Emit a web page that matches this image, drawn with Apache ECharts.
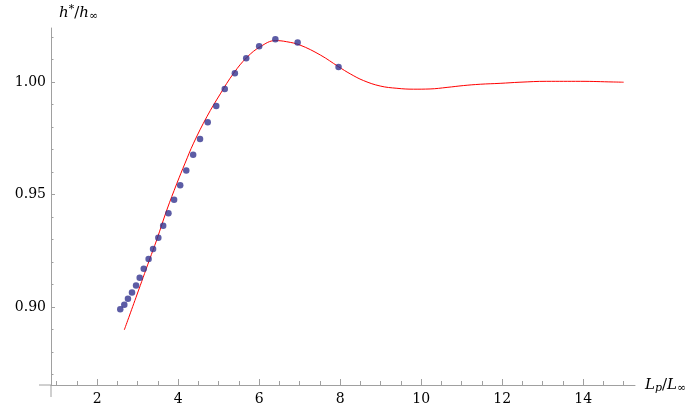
<!DOCTYPE html>
<html lang="en">
<head>
  <meta charset="UTF-8">
  <title>h*/h∞ vs Lp/L∞</title>
  <script src="https://cdn.jsdelivr.net/npm/echarts@6/dist/echarts.min.js"></script>
  <style>
    html, body { margin: 0; padding: 0; background: #fff; }
    #chart { width: 692px; height: 409px; }
  </style>
</head>
<body>
  <div id="chart"></div>
  <script>
    // measured points (dots)
    const lpPoints = [2.57, 2.67, 2.76, 2.86, 2.96, 3.05, 3.15, 3.27, 3.38, 3.51, 3.63, 3.76, 3.90,
                      4.05, 4.20, 4.37, 4.54, 4.73, 4.94, 5.15, 5.40, 5.68, 6.00, 6.40, 6.95, 7.96];
    const hPoints  = [0.8990, 0.9010, 0.9036, 0.9064, 0.9095, 0.9130, 0.9170, 0.9213, 0.9258, 0.9308,
                      0.9361, 0.9416, 0.9476, 0.9541, 0.9606, 0.9676, 0.9747, 0.9821, 0.9893, 0.9969,
                      1.0039, 1.0105, 1.0159, 1.0190, 1.0175, 1.0067];

    // theory curve (red line)
    const curveLp = [2.67, 2.98, 3.29, 3.47, 3.72, 3.97, 4.17, 4.38, 4.71, 5.04, 5.37, 5.70, 6.03,
                     6.40, 6.68, 7.01, 7.51, 7.96, 8.25, 8.58, 8.99, 9.40, 9.81, 10.22, 10.64,
                     11.04, 11.46, 11.95, 12.44, 13.10, 13.93, 14.75, 15.00];
    const curveH  = [0.8898, 0.9053, 0.9209, 0.9298, 0.9431, 0.9550, 0.9639, 0.9728, 0.9846, 0.9947,
                     1.0039, 1.0110, 1.0157, 1.0184, 1.0179, 1.0164, 1.0120, 1.0068, 1.0036, 1.0006,
                     0.9982, 0.9972, 0.9968, 0.9969, 0.9976, 0.9984, 0.9990, 0.9994, 0.9999, 1.0003,
                     1.0003, 1.0000, 0.9999];

    // ticks
    const xMajorTicks = [2, 4, 6, 8, 10, 12, 14];
    const xMinorTicks = [1, 1.5, 2, 2.5, 3, 3.5, 4, 4.5, 5, 5.5, 6, 6.5, 7, 7.5, 8, 8.5, 9, 9.5,
                         10, 10.5, 11, 11.5, 12, 12.5, 13, 13.5, 14, 14.5, 15];
    const yMajorTicks = [0.90, 0.95, 1.00];
    const yMinorTicks = [0.87, 0.88, 0.89, 0.90, 0.91, 0.92, 0.93, 0.94, 0.95, 0.96, 0.97, 0.98,
                         0.99, 1.00, 1.01, 1.02];

    const xMin = 0.86, xMax = 15.28;
    const yMin = 0.8653, yMax = 1.024;

    const axisGray = '#a0a0a0';
    const serif = 'DejaVu Serif';

    const chart = echarts.init(document.getElementById('chart'));

    const baseX = {
      type: 'value', min: xMin, max: xMax, position: 'bottom',
      splitLine: { show: false },
      axisLine: { onZero: false, lineStyle: { color: axisGray, width: 1 } }
    };
    const baseY = {
      type: 'value', min: yMin, max: yMax, position: 'left',
      splitLine: { show: false },
      axisLine: { onZero: false, lineStyle: { color: axisGray, width: 1 } }
    };

    const option = {
      animation: false,
      backgroundColor: '#fff',
      textStyle: { fontFamily: serif },
      grid: { left: 51, right: 57, top: 28, bottom: 24 },
      xAxis: [
        Object.assign({}, baseX, {
          name: '{i|L}{sub|p}{n|/}{i|L}{sub|∞}',
          nameLocation: 'end',
          nameGap: 10,
          nameTextStyle: {
            fontFamily: serif, fontSize: 15, color: '#000',
            rich: {
              i: { fontFamily: serif, fontStyle: 'italic', fontSize: 15, color: '#000' },
              n: { fontFamily: serif, fontSize: 15, color: '#000' },
              sub: { fontFamily: serif, fontStyle: 'italic', fontSize: 11, color: '#000', padding: [7, 0, 0, 0] }
            }
          },
          axisTick: { show: true, inside: true, length: 6, customValues: xMajorTicks,
                      lineStyle: { color: axisGray } },
          axisLabel: { show: true, margin: 7, customValues: xMajorTicks,
                       fontFamily: serif, fontSize: 14, color: '#000' }
        }),
        Object.assign({}, baseX, {
          axisLine: { show: false },
          axisTick: { show: true, inside: true, length: 4, customValues: xMinorTicks,
                      lineStyle: { color: axisGray } },
          axisLabel: { show: false }
        })
      ],
      yAxis: [
        Object.assign({}, baseY, {
          name: '{i|h}{sup|*}{n|/}{i|h}{sub|∞}',
          nameLocation: 'end',
          nameGap: 6,
          nameTextStyle: {
            align: 'left', padding: [0, 0, 0, 8],
            fontFamily: serif, fontSize: 15, color: '#000',
            rich: {
              i: { fontFamily: serif, fontStyle: 'italic', fontSize: 15, color: '#000' },
              n: { fontFamily: serif, fontSize: 15, color: '#000' },
              sup: { fontFamily: serif, fontSize: 11, color: '#000', padding: [0, 0, 7, 0] },
              sub: { fontFamily: serif, fontSize: 11, color: '#000', padding: [7, 0, 0, 0] }
            }
          },
          axisTick: { show: true, inside: true, length: 4, customValues: yMajorTicks,
                      lineStyle: { color: axisGray } },
          axisLabel: { show: true, margin: 5, customValues: yMajorTicks,
                       formatter: v => v.toFixed(2),
                       fontFamily: serif, fontSize: 14, color: '#000' }
        }),
        Object.assign({}, baseY, {
          axisLine: { show: false },
          axisTick: { show: true, inside: true, length: 2.5, customValues: yMinorTicks,
                      lineStyle: { color: axisGray } },
          axisLabel: { show: false }
        })
      ],
      series: [
        {
          type: 'line',
          xAxisIndex: 0, yAxisIndex: 0,
          data: curveLp.map((x, i) => [x, curveH[i]]),
          smooth: 0.4,
          showSymbol: false,
          lineStyle: { color: '#ff0000', width: 1 },
          z: 2
        },
        {
          type: 'scatter',
          xAxisIndex: 0, yAxisIndex: 0,
          data: lpPoints.map((x, i) => [x, hPoints[i]]),
          symbolSize: 6.5,
          itemStyle: { color: '#33338f' },
          z: 3
        }
      ]
    };

    chart.setOption(option);

    // axis overhangs past the corner, like the original frame
    const corner = chart.convertToPixel({ gridIndex: 0 }, [xMin, yMin]);
    chart.setOption({
      graphic: [
        { type: 'line', shape: { x1: corner[0] - 12, y1: corner[1], x2: corner[0], y2: corner[1] },
          style: { stroke: axisGray, lineWidth: 1 } },
        { type: 'line', shape: { x1: corner[0], y1: corner[1], x2: corner[0], y2: corner[1] + 12 },
          style: { stroke: axisGray, lineWidth: 1 } }
      ]
    });
  </script>
</body>
</html>
